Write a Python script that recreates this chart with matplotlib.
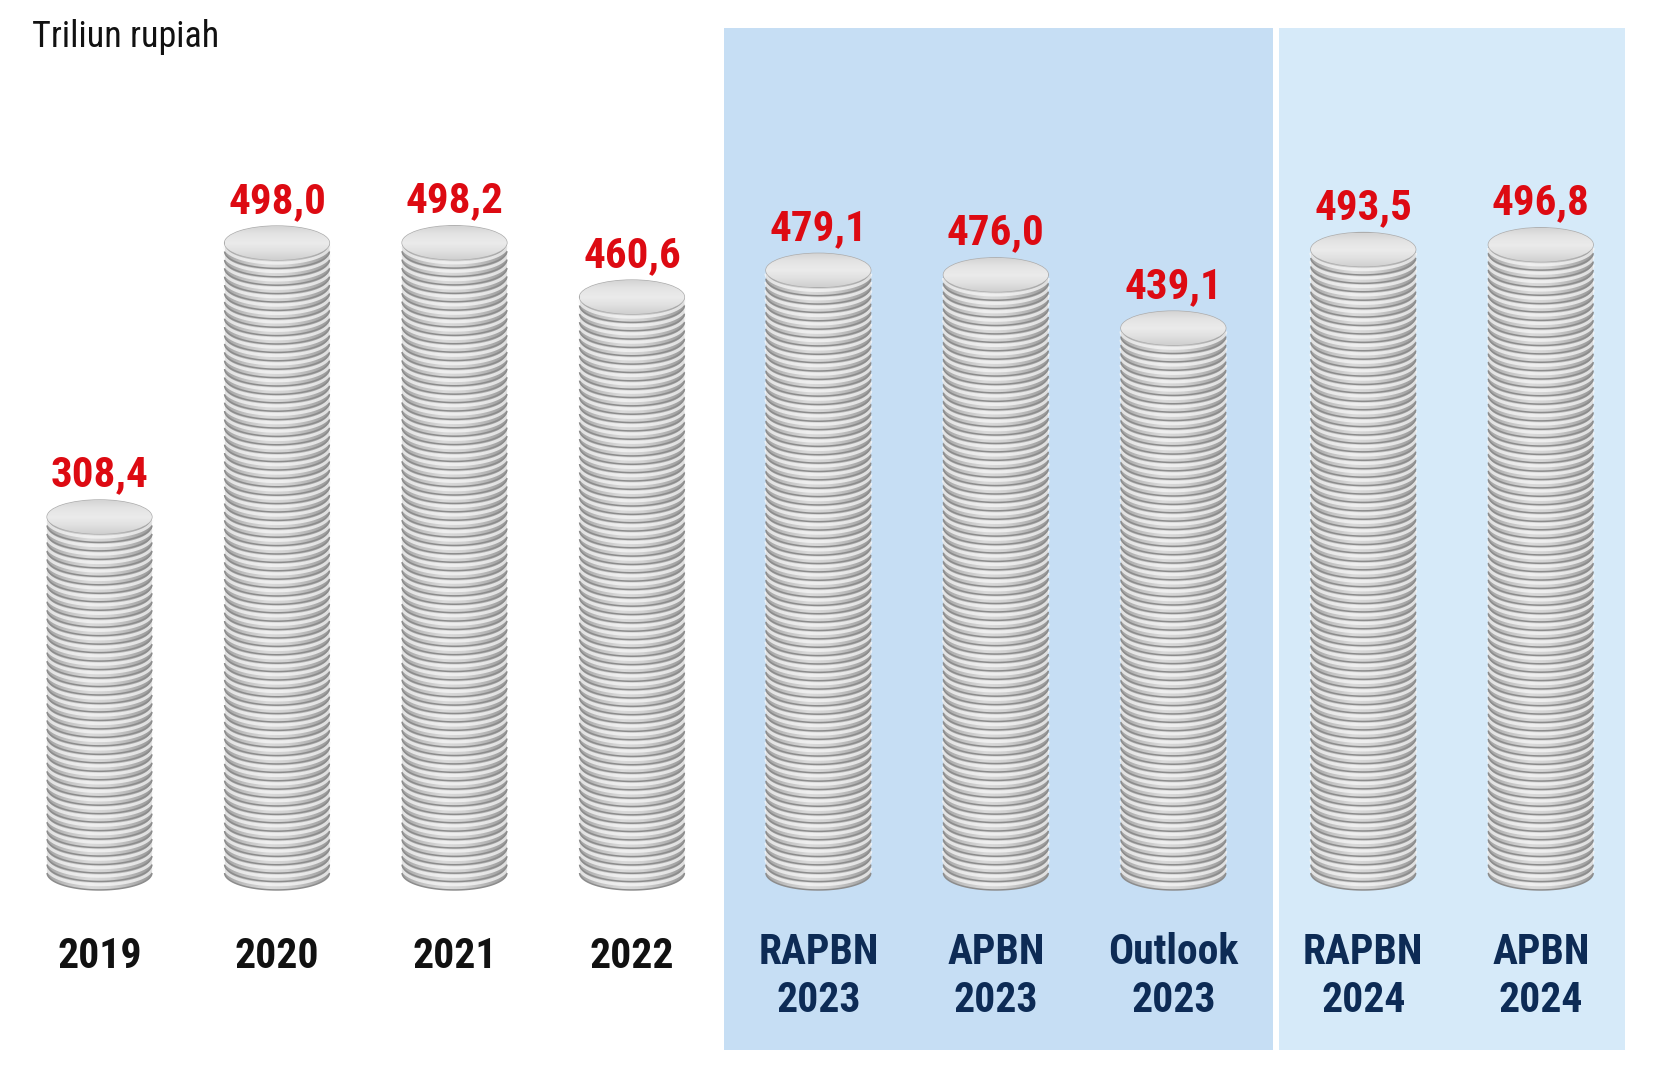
import numpy as np
import matplotlib
matplotlib.use("Agg")
import matplotlib.pyplot as plt
from matplotlib.patches import Rectangle, Ellipse, PathPatch
from matplotlib.path import Path
from matplotlib.colors import LinearSegmentedColormap

# data
categories = ["2019", "2020", "2021", "2022",
              "RAPBN\n2023", "APBN\n2023", "Outlook\n2023",
              "RAPBN\n2024", "APBN\n2024"]
values = [308.4, 498.0, 498.2, 460.6, 479.1, 476.0, 439.1, 493.5, 496.8]
labels = ["308,4", "498,0", "498,2", "460,6", "479,1", "476,0", "439,1", "493,5", "496,8"]
groups = [0, 0, 0, 0, 1, 1, 1, 2, 2]

BASE = 62.0          # stacks start here (infographic baseline)
COL_W = 0.59         # column width in category units
ELL_H = 23.5         # ellipse height in value units
COIN_T = 5.8         # coin thickness in value units
group_shift = {0: 0.0, 1: 0.05, 2: 0.12}

plt.rcParams["font.family"] = ["Roboto Condensed", "Liberation Sans Narrow",
                               "Roboto", "DejaVu Sans"]

fig = plt.figure(figsize=(16.54, 10.91), dpi=100)
fig.patch.set_facecolor("white")
ax = fig.add_axes([0, 0, 1, 1])
ax.set_axis_off()

# shaded panels
ax.add_patch(Rectangle((0.4377, 0.0376), 0.3319, 0.9367, transform=ax.transAxes,
                       facecolor="#c6def4", edgecolor="none", zorder=0))
ax.add_patch(Rectangle((0.7733, 0.0376), 0.2092, 0.9367, transform=ax.transAxes,
                       facecolor="#d6eaf9", edgecolor="none", zorder=0))

side_cmap = LinearSegmentedColormap.from_list(
    "side", ["#a2a2a2", "#c4c4c4", "#dadada", "#d2d2d2", "#b6b6b6", "#979797"])
top_cmap = LinearSegmentedColormap.from_list(
    "topf", ["#cfcfcf", "#e0e0e0", "#ebebeb", "#e4e4e4", "#d4d4d4"])
grad = np.linspace(0, 1, 256).reshape(1, -1)

xs = [i + group_shift[g] for i, g in enumerate(groups)]

for x, v, lab, g in zip(xs, values, labels, groups):
    top = v
    h = top - BASE
    n = max(1, int(round(h / COIN_T)))
    t = h / n
    hw = COL_W / 2
    th = np.linspace(np.pi, 2 * np.pi, 60)
    arc_x = x + hw * np.cos(th)
    arc_y = np.sin(th) * ELL_H / 2

    # body silhouette with horizontal gradient
    verts = [(x - hw, top), (x - hw, BASE)]
    verts += list(zip(arc_x, BASE + arc_y))
    verts += [(x + hw, top), (x - hw, top)]
    body = PathPatch(Path(verts), transform=ax.transData, facecolor="none",
                     edgecolor="none")
    im = ax.imshow(grad, extent=[x - hw, x + hw, BASE - ELL_H / 2, top],
                   aspect="auto", cmap=side_cmap, zorder=2, interpolation="bicubic")
    im.set_clip_path(body)

    # coin edges
    for k in range(n):
        yb = BASE + k * t
        ax.plot(arc_x, yb + arc_y, color="#8c8c8c", lw=1.1, zorder=3,
                solid_capstyle="butt")
        ax.plot(arc_x, yb + t * 0.62 + arc_y, color="#f7f7f7", lw=2.2,
                alpha=0.75, zorder=3, solid_capstyle="butt")

    # top face
    top_el = Ellipse((x, top), COL_W, ELL_H, facecolor="#dcdcdc",
                     edgecolor="#adadad", lw=1.0, zorder=4)
    ax.add_patch(top_el)
    im2 = ax.imshow(grad.T[::-1], extent=[x - hw, x + hw, top - ELL_H / 2, top + ELL_H / 2],
                    aspect="auto", cmap=top_cmap, zorder=4.5, interpolation="bicubic")
    im2.set_clip_path(top_el)

    ax.text(x, top + 21, lab, ha="center", va="baseline", fontsize=31,
            fontweight="bold", color="#dd0a12", zorder=5)

for x, cat, g in zip(xs, categories, groups):
    col = "#111111" if g == 0 else "#0d2b55"
    if "\n" in cat:
        top_line, bot_line = cat.split("\n")
        ax.text(x, 1 - 952 / 1091, top_line, transform=ax.get_xaxis_transform(),
                ha="center", va="center", fontsize=30, fontweight="bold", color=col)
        ax.text(x, 1 - 1000 / 1091, bot_line, transform=ax.get_xaxis_transform(),
                ha="center", va="center", fontsize=30, fontweight="bold", color=col)
    else:
        ax.text(x, 1 - 957 / 1091, cat, transform=ax.get_xaxis_transform(),
                ha="center", va="center", fontsize=30, fontweight="bold", color=col)

ax.text(32 / 1654, 1 - 37 / 1091, "Triliun rupiah", transform=ax.transAxes,
        ha="left", va="center", fontsize=26, color="#111111")

ax.set_xlim(-0.5606, 8.758)
ax.set_ylim(-88.9, 666.2)

fig.savefig("out.png", dpi=100, facecolor="white")
